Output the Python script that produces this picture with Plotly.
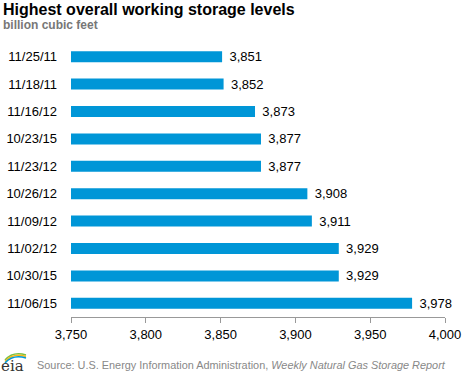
import plotly.graph_objects as go

dates = ["11/25/11", "11/18/11", "11/16/12", "10/23/15", "11/23/12",
         "10/26/12", "11/09/12", "11/02/12", "10/30/15", "11/06/15"]
values = [3851, 3852, 3873, 3877, 3877, 3908, 3911, 3929, 3929, 3978]
tick_vals = [3750, 3800, 3850, 3900, 3950, 4000]

W, H = 468, 378
L, R, T, B = 71, 445, 43, 317


def px(x):
    return (x - L) / (R - L)


def py(y):
    return (B - y) / (B - T)


fig = go.Figure()
fig.add_trace(go.Bar(
    y=dates, x=[v - 3750 for v in values], base=3750, orientation="h",
    marker=dict(color="#0096D7", line=dict(width=0)),
    width=0.4,
    text=[f"\u2004{v:,}" for v in values], textposition="outside",
    constraintext="none",
    textfont=dict(family="Liberation Sans, Arial", size=13, color="#000"),
    cliponaxis=False, hoverinfo="skip",
))

fig.update_layout(
    width=W, height=H, margin=dict(l=L, r=W - R, t=T, b=H - B, autoexpand=False),
    paper_bgcolor="white", plot_bgcolor="white", showlegend=False,
    font=dict(family="Liberation Sans, Arial", size=13, color="#000"),
    xaxis=dict(range=[3750, 4000], tickvals=tick_vals,
               ticktext=[f"{t:,}" for t in tick_vals], automargin=False,
               showgrid=False, zeroline=False, showline=True,
               linecolor="#999", linewidth=1, ticks="outside", ticklen=5,
               tickcolor="#999", tickfont=dict(size=13, color="#000")),
    yaxis=dict(categoryorder="array", categoryarray=dates[::-1],
               automargin=False, showgrid=False, zeroline=False,
               showline=False, ticks="", ticklabelstandoff=13,
               tickfont=dict(size=13, color="#000")),
)

fig.add_annotation(text="<b>Highest overall working storage levels</b>",
                   xref="paper", yref="paper", x=px(1), y=py(10),
                   xanchor="left", yanchor="middle", showarrow=False,
                   font=dict(size=16, color="#000"))
fig.add_annotation(text="<b>billion cubic feet</b>",
                   xref="paper", yref="paper", x=px(1), y=py(25),
                   xanchor="left", yanchor="middle", showarrow=False,
                   font=dict(size=12, color="#777"))
fig.add_annotation(text="Source: U.S. Energy Information Administration, <i>Weekly Natural Gas Storage Report</i>",
                   xref="paper", yref="paper", x=px(35), y=py(365),
                   xanchor="left", yanchor="middle", showarrow=False,
                   font=dict(size=10.9, color="#888"))
fig.add_annotation(text="eia",
                   xref="paper", yref="paper", x=px(-1), y=py(366),
                   xanchor="left", yanchor="middle", showarrow=False,
                   font=dict(family="DejaVu Serif", size=15, color="#333"))
for i, col in enumerate(["#7ABF43", "#F7B918", "#0096D7"]):
    fig.add_shape(type="path", xref="paper", yref="paper",
                  path=f"M {px(5)} {py(360 + i*1.5)} Q {px(13)} {py(351 + i*1.5)} {px(26)} {py(355 + i*1.5)}",
                  line=dict(color=col, width=1.5))

fig.write_html("out.html", config={"displayModeBar": False},
               post_script="document.body.style.margin='0';document.body.style.overflow='hidden';")
